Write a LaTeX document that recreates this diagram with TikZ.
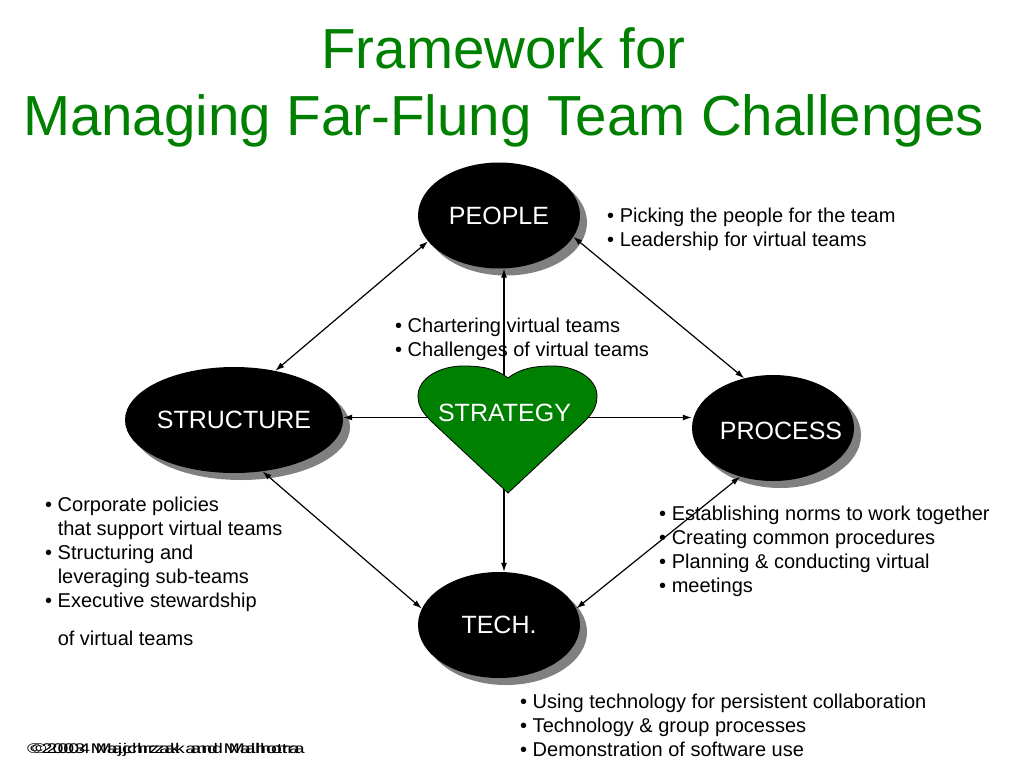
\documentclass[tikz,border=0pt]{standalone}
\usepackage{fontspec}
\setmainfont{Liberation Sans}
\usetikzlibrary{shapes.geometric,shadows,arrows.meta}
\definecolor{leaf}{RGB}{0,128,0}

\begin{document}
\begin{tikzpicture}[x=1pt, y=1pt,
  hub/.style={ellipse, fill=black, text=white, minimum width=162pt, minimum height=106pt,
    inner sep=0pt, font=\fontsize{25}{30}\selectfont,
    drop shadow={shadow xshift=7pt, shadow yshift=-7pt, fill=gray, opacity=1}},
  note/.style={anchor=north west, inner sep=0pt, align=left, font=\fontsize{20}{24}\selectfont},
  arr/.style={line width=1.2pt, -{Latex[length=9pt,width=6pt]}},
  both/.style={line width=1.2pt, {Latex[length=9pt,width=6pt]}-{Latex[length=9pt,width=6pt]}}]
\useasboundingbox (0,0) rectangle (1024,-768);

% title
\node[anchor=north, align=center, inner sep=0pt, text=leaf, font=\fontsize{56.5}{67}\selectfont]
  (title) at (503.5,-21.1) {\strut Framework for\\Managing Far-Flung Team Challenges};

% the four hubs
\node[hub] (people) at (499,-215.5) {PEOPLE};
\node[hub] (structure) at (234,-420) {STRUCTURE};
\node[hub] (process) at (773,-428) {};
\node[hub] (tech) at (499,-625) {TECH.};
\node[text=white, inner sep=0pt, font=\fontsize{25}{30}\selectfont] (proclabel) at (781,-431) {PROCESS};

% links between hubs
\draw[both] (people.200) -- (structure.50);
\draw[both] (people.344) -- (process.120);
\draw[both] (structure.299) -- (tech.168);
\draw[both] (process.236) -- (tech.12);

% strategy in the middle
\coordinate (hc) at (504,-417.5);
\draw[arr] (hc) -- (hc |- people.south);
\draw[arr] (hc) -- (hc |- tech.north);
\draw[arr] (hc) -- (hc -| structure.east);
\draw[arr] (hc) -- (hc -| process.west);
\draw[fill=leaf, line width=0.8pt] (508,-378) .. controls (495,-368) and (481,-366) .. (463,-366)
  .. controls (440,-366) and (418,-378) .. (418,-396)
  .. controls (418,-407) and (424,-414) .. (432,-422)
  -- (508,-493) -- (584,-422)
  .. controls (592,-414) and (597,-407) .. (597,-396)
  .. controls (597,-378) and (575,-366) .. (553,-366)
  .. controls (535,-366) and (521,-368) .. (508,-378) -- cycle;
\node[text=white, inner sep=0pt, font=\fontsize{25}{30}\selectfont] (strategy) at (504.5,-413) {STRATEGY};

% notes
\node[note] (peoplenotes) at (607,-205.7) {\strut• Picking the people for the team\\• Leadership for virtual teams};
\node[note] (charter) at (395,-315.7) {\strut• Chartering virtual teams\\• Challenges of virtual teams};
\node[note] (structnotes) at (45,-494.9) {\strut• Corporate policies\\\hphantom{• }that support virtual teams\\• Structuring and\\\hphantom{• }leveraging sub-teams\\• Executive stewardship\\[14pt]\hphantom{• }of virtual teams};
\node[note] (procnotes) at (659,-503.7) {\strut• Establishing norms to work together\\• Creating common procedures\\• Planning \& conducting virtual\\• meetings};
\node[note] (technotes) at (520,-691.7) {\strut• Using technology for persistent collaboration\\• Technology \& group processes\\• Demonstration of software use};

% footer
\node[anchor=base west, inner sep=0pt] (foot) at (27,-753) {\scalebox{1.4}[1]{\fontsize{14}{16}\selectfont ©2003 Majchrzak and Malhotra}};
\node[anchor=base west, inner sep=0pt] (footb) at (32,-753) {\scalebox{1.4}[1]{\fontsize{14}{16}\selectfont ©2004 Majchrzak and Malhotra}};
\end{tikzpicture}
\end{document}
